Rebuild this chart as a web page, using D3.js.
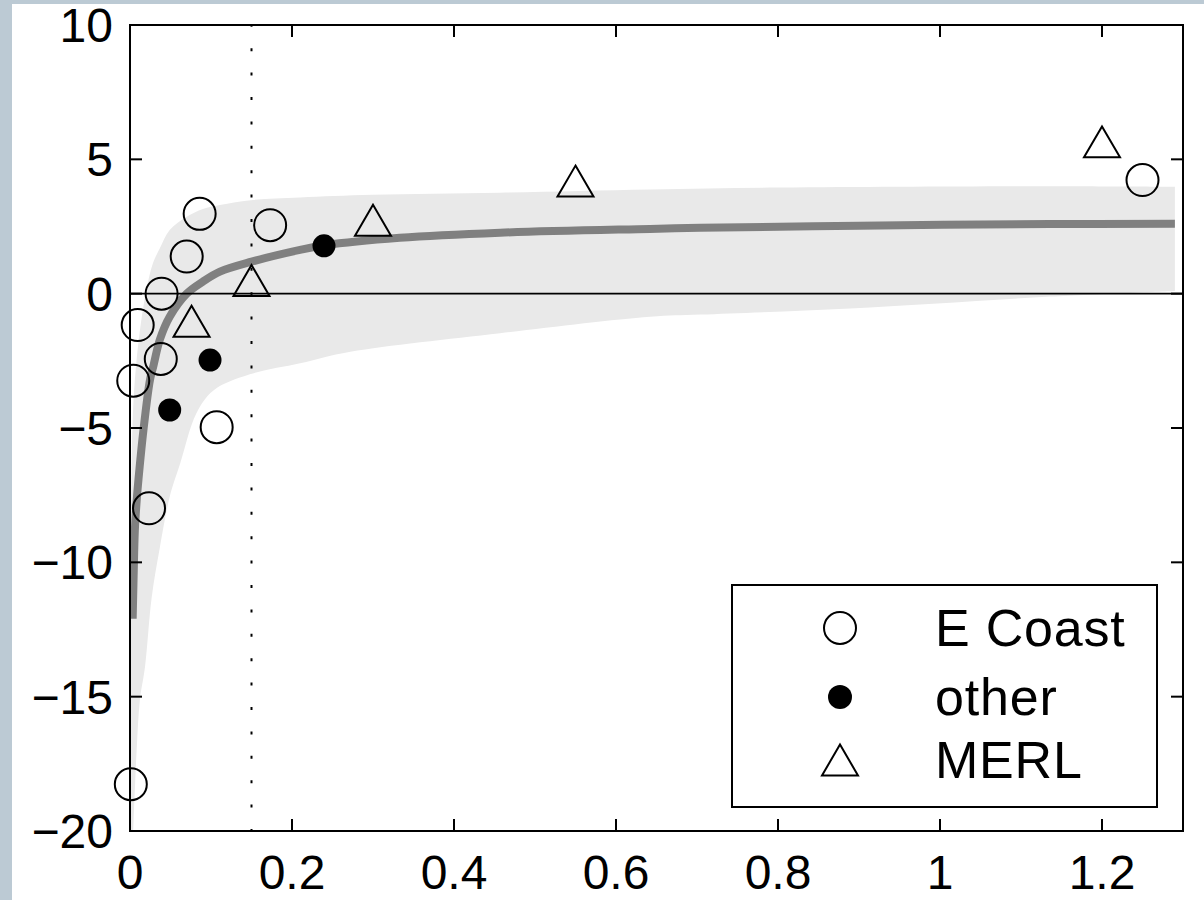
<!DOCTYPE html>
<html>
<head>
<meta charset="utf-8">
<script src="https://cdn.jsdelivr.net/npm/d3@7"></script>
<style>
    html, body { margin: 0; padding: 0; background: #bccad4; overflow: hidden; }
    svg { display: block; }
    text { font-family: "Liberation Sans", Arial, Helvetica, sans-serif; fill: #000; }
</style>
</head>
<body>
<div id="chart"></div>
<script>
// ---- data ----
const eCoastX = [0.086, 0.173, 0.070, 0.039, 0.0095, 0.038, 0.004, 0.107, 0.0235, 0.001, 1.25];
const eCoastY = [2.97, 2.55, 1.38, 0.0, -1.17, -2.43, -3.24, -4.97, -7.99, -18.26, 4.23];

const otherX = [0.2395, 0.0988, 0.049];
const otherY = [1.78, -2.47, -4.33];

const merlX = [0.15, 0.076, 0.30, 0.55, 1.20];
const merlY = [0.49, -1.03, 2.73, 4.19, 5.65];

// fitted curve (thick grey line)
const fitX = [0.0033, 0.0045, 0.006, 0.0085, 0.0105, 0.0165, 0.0247, 0.0288, 0.037, 0.049, 0.070, 0.090, 0.111, 0.150, 0.210, 0.240, 0.333, 0.457, 0.642, 0.704, 0.900, 1.136, 1.29];
const fitY = [-12.1, -10.5, -8.8, -7.6, -6.9, -5.1, -3.2, -2.7, -1.7, -0.86, 0.0, 0.45, 0.82, 1.19, 1.63, 1.80, 2.08, 2.27, 2.41, 2.45, 2.53, 2.59, 2.60];

// shaded band, upper and lower edges
const bandUpX = [0.0, 0.001, 0.003, 0.006, 0.0123, 0.020, 0.028, 0.037, 0.049, 0.070, 0.090, 0.111, 0.152, 0.210, 0.300, 0.457, 0.642, 0.800, 0.950, 1.136, 1.29];
const bandUpY = [-20, -9, -5, -3.2, -1.35, 0.1, 1.1, 1.7, 2.37, 2.86, 3.15, 3.30, 3.49, 3.58, 3.68, 3.76, 3.88, 3.95, 3.98, 4.0, 3.98];
const bandLoX = [0.004, 0.0082, 0.0123, 0.0185, 0.0268, 0.037, 0.049, 0.062, 0.082, 0.103, 0.148, 0.210, 0.272, 0.457, 0.642, 0.704, 0.889, 1.136, 1.29];
const bandLoY = [-20, -17.0, -15.1, -13.9, -11.3, -9.42, -7.56, -6.31, -4.45, -3.6, -3.0, -2.59, -2.16, -1.47, -0.86, -0.78, -0.55, -0.11, 0.1];

const xTicks = [0, 0.2, 0.4, 0.6, 0.8, 1, 1.2];
const yTicks = [10, 5, 0, -5, -10, -15, -20];
const cutoffX = 0.15;

const legendLabels = ["E Coast", "other", "MERL"];

// ---- layout ----
const width = 1204, height = 900;
const margin = {top: 25, right: 21, bottom: 69, left: 130};

const svg = d3.select("#chart").append("svg")
    .attr("width", width).attr("height", height);

// bluish page border, white paper
svg.append("rect").attr("width", width).attr("height", height).attr("fill", "#bccad4");
svg.append("rect").attr("x", 12).attr("y", 4).attr("width", width - 12).attr("height", height - 4).attr("fill", "#fff");

const x = d3.scaleLinear().domain([0, 1.3]).range([margin.left, width - margin.right]);
const y = d3.scaleLinear().domain([-20, 10]).range([height - margin.bottom, margin.top]);

svg.append("clipPath").attr("id", "plotClip")
    .append("rect")
    .attr("x", x(0)).attr("y", y(10))
    .attr("width", x(1.3) - x(0)).attr("height", y(-20) - y(10));

const plot = svg.append("g").attr("clip-path", "url(#plotClip)");

// band
const edge = d3.line().x(d => x(d[0])).y(d => y(d[1])).curve(d3.curveCatmullRom.alpha(0.5));
const upPts = bandUpX.map((v, i) => [v, bandUpY[i]]);
const loPts = bandLoX.map((v, i) => [v, bandLoY[i]]).reverse();
plot.append("path")
    .attr("d", edge(upPts) + "L" + edge(loPts).slice(1) + "Z")
    .attr("fill", "#e9e9e9")
    .attr("stroke", "none");

// fitted curve
plot.append("path")
    .datum(fitX.map((v, i) => [v, fitY[i]]))
    .attr("fill", "none")
    .attr("stroke", "#808080")
    .attr("stroke-width", 8)
    .attr("d", edge);

// zero line
plot.append("line")
    .attr("x1", x(0)).attr("x2", x(1.3))
    .attr("y1", y(0)).attr("y2", y(0))
    .attr("stroke", "#000").attr("stroke-width", 1.6);

// dotted cutoff line
svg.append("line")
    .attr("x1", x(cutoffX)).attr("x2", x(cutoffX))
    .attr("y1", y(-20)).attr("y2", y(10))
    .attr("stroke", "#000").attr("stroke-width", 2)
    .attr("stroke-dasharray", "3 21.4")
    .attr("stroke-dashoffset", 1);

// markers
function triangle(w) {
    const h = w * 0.86;
    return `M0,${-h / 2}L${w / 2},${h / 2}L${-w / 2},${h / 2}Z`;
}

svg.append("g").selectAll("circle")
    .data(eCoastX.map((v, i) => [v, eCoastY[i]]))
    .join("circle")
    .attr("cx", d => x(d[0])).attr("cy", d => y(d[1]))
    .attr("r", 16)
    .attr("fill", "none").attr("stroke", "#000").attr("stroke-width", 2);

svg.append("g").selectAll("circle")
    .data(otherX.map((v, i) => [v, otherY[i]]))
    .join("circle")
    .attr("cx", d => x(d[0])).attr("cy", d => y(d[1]))
    .attr("r", 11.5)
    .attr("fill", "#000");

svg.append("g").selectAll("path")
    .data(merlX.map((v, i) => [v, merlY[i]]))
    .join("path")
    .attr("transform", d => `translate(${x(d[0])},${y(d[1])})`)
    .attr("d", triangle(36))
    .attr("fill", "none").attr("stroke", "#000").attr("stroke-width", 2);

// axes box with inward ticks on all sides
const axes = svg.append("g");
axes.append("rect")
    .attr("x", x(0)).attr("y", y(10))
    .attr("width", x(1.3) - x(0)).attr("height", y(-20) - y(10))
    .attr("fill", "none").attr("stroke", "#000").attr("stroke-width", 2);

const tickLen = 12;
xTicks.forEach(t => {
    axes.append("line").attr("x1", x(t)).attr("x2", x(t))
        .attr("y1", y(-20)).attr("y2", y(-20) - tickLen)
        .attr("stroke", "#000").attr("stroke-width", 2);
    axes.append("line").attr("x1", x(t)).attr("x2", x(t))
        .attr("y1", y(10)).attr("y2", y(10) + tickLen)
        .attr("stroke", "#000").attr("stroke-width", 2);
    axes.append("text")
        .attr("x", x(t)).attr("y", 889)
        .attr("text-anchor", "middle")
        .attr("font-size", 48)
        .text(d3.format("~g")(t));
});
yTicks.forEach(t => {
    axes.append("line").attr("x1", x(0)).attr("x2", x(0) + tickLen)
        .attr("y1", y(t)).attr("y2", y(t))
        .attr("stroke", "#000").attr("stroke-width", 2);
    axes.append("line").attr("x1", x(1.3)).attr("x2", x(1.3) - tickLen)
        .attr("y1", y(t)).attr("y2", y(t))
        .attr("stroke", "#000").attr("stroke-width", 2);
    axes.append("text")
        .attr("x", 113).attr("y", y(t) + 17)
        .attr("text-anchor", "end")
        .attr("font-size", 48)
        .text(t < 0 ? "\u2212" + Math.abs(t) : t);
});

// legend
const legend = svg.append("g");
legend.append("rect")
    .attr("x", 732).attr("y", 585).attr("width", 425).attr("height", 222)
    .attr("fill", "#fff").attr("stroke", "#000").attr("stroke-width", 2);
const rowY = [628, 697, 760];
legend.append("circle").attr("cx", 840).attr("cy", rowY[0]).attr("r", 16)
    .attr("fill", "none").attr("stroke", "#000").attr("stroke-width", 2);
legend.append("circle").attr("cx", 840).attr("cy", rowY[1]).attr("r", 12).attr("fill", "#000");
legend.append("path").attr("transform", `translate(840,${rowY[2]})`)
    .attr("d", triangle(36))
    .attr("fill", "none").attr("stroke", "#000").attr("stroke-width", 2);
legend.selectAll("text.lab")
    .data(legendLabels)
    .join("text")
    .attr("class", "lab")
    .attr("x", 935)
    .attr("y", (d, i) => rowY[i] + 18)
    .attr("font-size", 52)
    .attr("letter-spacing", 0.8)
    .text(d => d);
</script>
</body>
</html>
